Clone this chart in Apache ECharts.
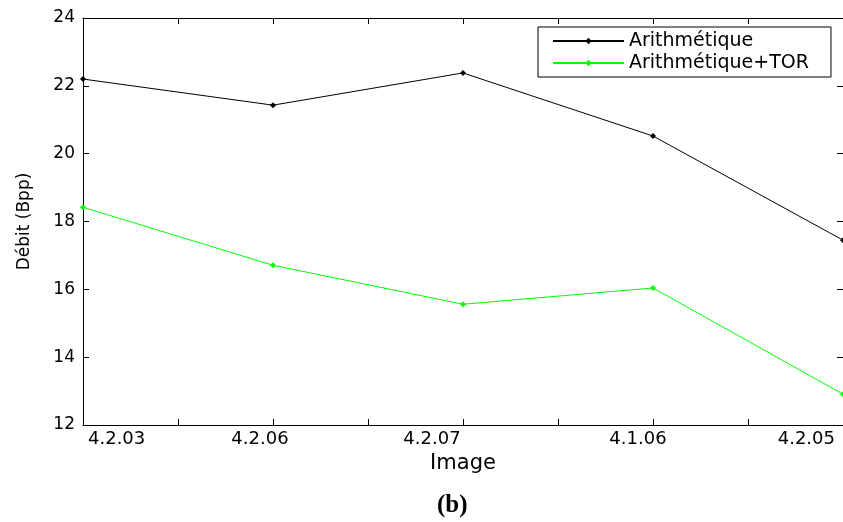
<!DOCTYPE html>
<html>
<head>
<meta charset="utf-8">
<script src="https://cdn.jsdelivr.net/npm/echarts@6/dist/echarts.min.js"></script>
<style>html,body{margin:0;padding:0;background:#fff}</style>
</head>
<body>
<div id="chart" style="width:843px;height:522px"></div>
<script>
const images = ['4.2.03', '4.2.06', '4.2.07', '4.1.06', '4.2.05']
const arith = [22.2, 21.43, 22.38, 20.52, 17.45]
const arithTor = [18.42, 16.71, 15.56, 16.04, 12.91]
const yTicks = [12, 14, 16, 18, 20, 22, 24]

const font = 'DejaVu Sans, Verdana, sans-serif'
const chart = echarts.init(document.getElementById('chart'))

const toPts = vals => vals.map((v, i) => [i + 1, v])
const frameAxis = { show: true, lineStyle: { color: '#000', width: 1 } }
const tickIn = { show: true, inside: true, length: 6, lineStyle: { color: '#000' } }

// the labels in the original sit a bit off their ticks; nudge them with padding
const lblStyle = { fontFamily: font, fontSize: 18, color: '#000' }
const rich = {
  l0: { ...lblStyle, padding: [0, 0, 0, 5] },
  l1: { ...lblStyle, padding: [0, 26, 0, 0] },
  l2: { ...lblStyle, padding: [0, 62, 0, 0] },
  l3: { ...lblStyle, padding: [0, 30, 0, 0] },
  l4: { ...lblStyle, padding: [0, 8, 0, 0] }
}

chart.setOption({
  backgroundColor: '#fff',
  animation: false,
  title: {
    text: '(b)', left: 432, top: 488,
    textStyle: { fontFamily: 'Liberation Serif, Times New Roman, serif', fontWeight: 'bold', fontSize: 25, color: '#000' }
  },
  grid: { left: 83, right: 0, top: 18, bottom: 97 },
  legend: {
    orient: 'vertical', left: 538, top: 27,
    padding: [3, 22, 3, 14], itemGap: 0,
    itemWidth: 71, itemHeight: 8,
    borderColor: '#000', borderWidth: 1,
    textStyle: { fontFamily: font, fontSize: 19, color: '#000', lineHeight: 22 },
    data: ['Arithmétique', 'Arithmétique+TOR']
  },
  xAxis: [{
    type: 'value', min: 1, max: 5, interval: 0.5,
    name: 'Image', nameLocation: 'middle', nameGap: 24,
    nameTextStyle: { fontFamily: font, fontSize: 21, color: '#000' },
    axisLine: frameAxis, axisTick: tickIn, splitLine: { show: false },
    axisLabel: {
      ...lblStyle, margin: 5, rich,
      alignMinLabel: 'left', alignMaxLabel: 'right',
      formatter: v => Number.isInteger(v) ? '{l' + (v - 1) + '|' + images[v - 1] + '}' : ''
    }
  }, {
    type: 'value', min: 1, max: 5, interval: 0.5, position: 'top',
    axisLine: frameAxis, axisTick: tickIn, axisLabel: { show: false }, splitLine: { show: false }
  }],
  yAxis: [{
    type: 'value', min: yTicks[0], max: yTicks[yTicks.length - 1], interval: 2,
    name: 'Débit (Bpp)', nameLocation: 'middle', nameGap: 50,
    nameTextStyle: { fontFamily: font, fontSize: 17, color: '#000' },
    axisLine: frameAxis, axisTick: tickIn, splitLine: { show: false },
    axisLabel: { fontFamily: font, fontSize: 17, color: '#000', margin: 8 }
  }, {
    type: 'value', min: yTicks[0], max: yTicks[yTicks.length - 1], interval: 2, position: 'right',
    axisLine: frameAxis, axisTick: tickIn, axisLabel: { show: false }, splitLine: { show: false }
  }],
  series: [{
    name: 'Arithmétique', type: 'line', data: toPts(arith),
    symbol: 'diamond', symbolSize: 6,
    lineStyle: { color: '#000', width: 1 }, itemStyle: { color: '#000' }
  }, {
    name: 'Arithmétique+TOR', type: 'line', data: toPts(arithTor),
    symbol: 'diamond', symbolSize: 6,
    lineStyle: { color: '#00ff00', width: 1 }, itemStyle: { color: '#00ff00' }
  }]
})
</script>
</body>
</html>
